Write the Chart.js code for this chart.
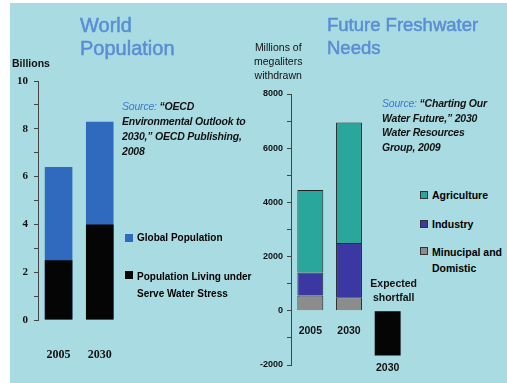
<!DOCTYPE html>
<html>
<head>
<meta charset="utf-8">
<script src="https://cdn.jsdelivr.net/npm/chart.js@4.4.1/dist/chart.umd.min.js"></script>
<style>
  html, body { margin: 0; padding: 0; background: #fff; }
  body { width: 507px; height: 383px; position: relative; overflow: hidden; font-family: "Liberation Sans", Arial, sans-serif; }
  #panel { position: absolute; left: 10px; top: 3px; width: 497px; height: 380px; background: #a9dbe3; }
  canvas { position: absolute; top: 0; }
  .txt { position: absolute; white-space: nowrap; color: #111; }
  .title { color: #5a8dd4; line-height: 23px; -webkit-text-stroke: 0.5px #5a8dd4; }
  .src { font-weight: bold; font-style: italic; font-size: 10.5px; line-height: 15px; letter-spacing: -0.2px; }
  .src span { color: #3d78cc; font-weight: normal; }
  .legend { font-weight: bold; font-size: 10px; }
  .legend div { position: absolute; white-space: nowrap; height: 14px; line-height: 14px; }
  .legend i { position: absolute; width: 8px; height: 8px; top: 3px; box-sizing: border-box; }
</style>
</head>
<body>
<div id="panel"></div>

<canvas id="popChart" width="135" height="383" style="left:0"></canvas>
<canvas id="waterChart" width="170" height="383" style="left:250px"></canvas>

<div class="txt title" style="left:80px; top:14px; font-size:20px">World<br>Population</div>
<div class="txt title" style="left:327px; top:13px; font-size:18.5px">Future Freshwater<br>Needs</div>

<div class="txt" style="left:12px; top:57px; font-size:10.5px; font-weight:bold">Billions</div>
<div class="txt" style="left:254px; top:40px; font-size:10.5px; line-height:14px; text-align:center">Millions of<br>megaliters<br>withdrawn</div>

<div class="txt src" style="left:122px; top:99px"><span>Source:</span> “OECD<br>Environmental Outlook to<br>2030,” OECD Publishing,<br>2008</div>
<div class="txt src" style="left:382px; top:96px; line-height:14.5px"><span>Source:</span> “Charting Our<br>Water Future,” 2030<br>Water Resources<br>Group, 2009</div>

<div class="legend" id="popLegend"></div>
<div class="legend" id="waterLegend" style="font-size:10.5px"></div>

<script>
// World population, billions
const popYears = ["2005", "2030"];
const globalPop = [6.4, 8.3];
const stressPop = [2.5, 4.0];
const popTickLabels = [0, 2, 4, 6, 8, 10];

// Freshwater withdrawals, millions of megaliters (stack segments)
const waterYears = ["2005", "2030", "2030"];
const municipal = [560, 500, null];
const industry = [850, 2000, null];
const agriculture = [3050, 4450, null];
const shortfall = [null, null, -1650];
const waterTickLabels = [-2000, 0, 2000, 4000, 6000, 8000];

const sans = "'Liberation Sans', Arial, sans-serif";
const serif = "'Liberation Serif', 'Times New Roman', serif";

// Legend rows, built from the same dataset names / colours
function buildLegend(el, rows) {
    let html = "";
    rows.forEach(r => {
        const lines = r.label.split("\n");
        html += `<div style="left:${r.x}px; top:${r.y - 7}px">
            <i style="left:0; background:${r.color}; ${r.border ? "border:1px solid #333;" : ""}"></i>
            <span style="position:absolute; left:12px; line-height:${r.lh || 14}px">${lines.join("<br>")}</span>
        </div>`;
    });
    el.innerHTML = html;
}

// Left chart: stress population drawn over the global total
const popSets = [
    { label: "Population Living under\nServe Water Stress", data: stressPop, backgroundColor: "#050505" },
    { label: "Global Population", data: globalPop, backgroundColor: "#2f6abf" }
];

new Chart(document.getElementById("popChart"), {
    type: "bar",
    data: {
        labels: popYears,
        datasets: popSets.map(d => ({
            label: d.label,
            data: d.data,
            backgroundColor: d.backgroundColor,
            grouped: false,
            borderWidth: 0,
            categoryPercentage: 1,
            barPercentage: 0.67
        }))
    },
    options: {
        responsive: false,
        animation: false,
        layout: { padding: { top: 81, right: 13, bottom: 0, left: 0 } },
        plugins: { legend: { display: false }, tooltip: { enabled: false } },
        scales: {
            x: {
                grid: { display: false },
                border: { display: false },
                ticks: { color: "#111", padding: 20, font: { family: serif, size: 12, weight: "bold" } },
                afterFit: s => { s.height = 63; }
            },
            y: {
                min: 0,
                max: 10,
                ticks: {
                    stepSize: 1,
                    padding: 6,
                    color: "#111",
                    font: { family: serif, size: 11, weight: "bold" },
                    callback: v => popTickLabels.includes(v) ? v : ""
                },
                grid: { drawOnChartArea: false, tickLength: 4, color: "#444" },
                border: { display: true, color: "#444", width: 1 },
                afterFit: s => { s.width = 38; }
            }
        }
    }
});

buildLegend(document.getElementById("popLegend"), [
    { label: popSets[1].label, color: popSets[1].backgroundColor, x: 125, y: 238 },
    { label: popSets[0].label, color: popSets[0].backgroundColor, x: 125, y: 275, lh: 17 }
]);

// Right chart: withdrawals by sector plus the expected shortfall
const waterSets = [
    { label: "Minucipal and\nDomistic", data: municipal, backgroundColor: "#8c8c8c" },
    { label: "Industry", data: industry, backgroundColor: "#3c38a3" },
    { label: "Agriculture", data: agriculture, backgroundColor: "#2aa79c" },
    { label: "Expected shortfall", data: shortfall, backgroundColor: "#050505" }
];

const shortfallText = {
    id: "shortfallText",
    afterDatasetsDraw(chart) {
        const bar = chart.getDatasetMeta(3).data[2];
        if (!bar) return;
        const ctx = chart.ctx;
        ctx.save();
        ctx.fillStyle = "#111";
        ctx.font = "bold 10.5px " + sans;
        ctx.textAlign = "center";
        ctx.textBaseline = "middle";
        ctx.fillText(waterYears[2], bar.x, bar.y + 13);
        ctx.fillText("Expected", bar.x + 6, bar.base - 27);
        ctx.fillText("shortfall", bar.x + 6, bar.base - 13);
        ctx.restore();
    }
};

new Chart(document.getElementById("waterChart"), {
    type: "bar",
    data: {
        labels: waterYears,
        datasets: waterSets.map(d => ({
            label: d.label,
            data: d.data,
            backgroundColor: d.backgroundColor,
            borderColor: "#222",
            borderWidth: d.data === shortfall ? 0 : 1,
            categoryPercentage: 1,
            barPercentage: 0.67
        }))
    },
    options: {
        responsive: false,
        animation: false,
        layout: { padding: { top: 94, right: 13, bottom: 18, left: 0 } },
        plugins: { legend: { display: false }, tooltip: { enabled: false } },
        scales: {
            x: {
                stacked: true,
                position: { y: 0 },
                grid: { display: false },
                border: { display: false },
                ticks: {
                    color: "#111",
                    padding: 6,
                    font: { family: sans, size: 10.5, weight: "bold" },
                    callback: (v, i) => i < 2 ? waterYears[i] : ""
                }
            },
            y: {
                stacked: true,
                min: -2000,
                max: 8000,
                ticks: {
                    stepSize: 1000,
                    padding: 4,
                    color: "#111",
                    font: { family: sans, size: 9, weight: "bold" },
                    callback: v => waterTickLabels.includes(v) ? v : ""
                },
                grid: { drawOnChartArea: false, tickLength: 4, color: "#444" },
                border: { display: true, color: "#444", width: 1 },
                afterFit: s => { s.width = 41; }
            }
        }
    },
    plugins: [shortfallText]
});

buildLegend(document.getElementById("waterLegend"), [
    { label: waterSets[2].label, color: waterSets[2].backgroundColor, x: 420, y: 195, border: true },
    { label: waterSets[1].label, color: waterSets[1].backgroundColor, x: 420, y: 224, border: true },
    { label: waterSets[0].label, color: waterSets[0].backgroundColor, x: 420, y: 251, border: true, lh: 16 }
]);
</script>
</body>
</html>
